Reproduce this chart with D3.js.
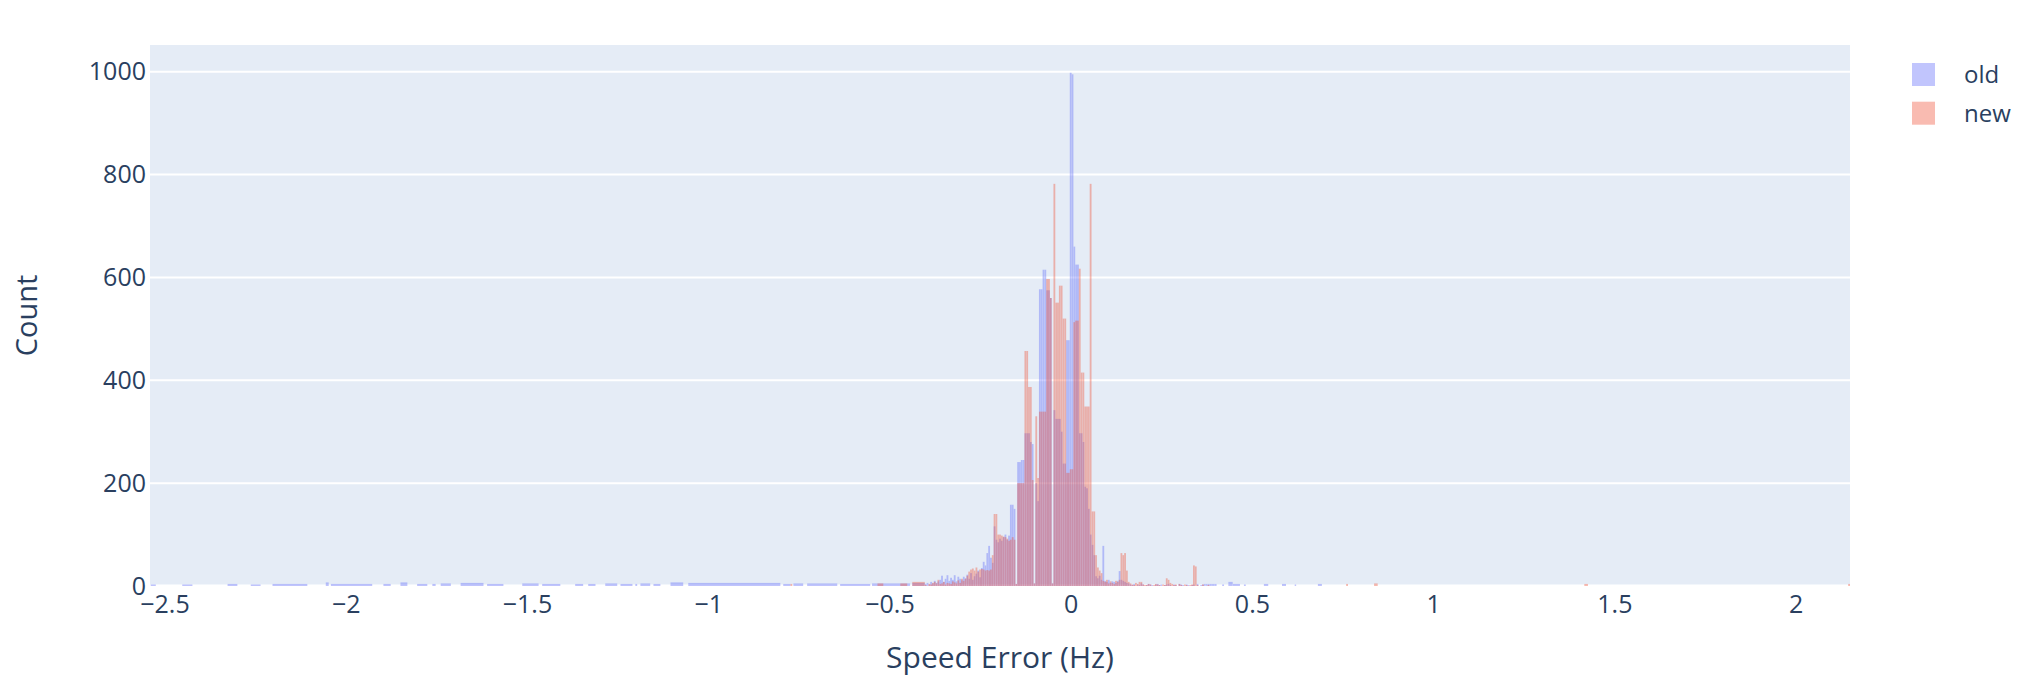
<!DOCTYPE html>
<html><head><meta charset="utf-8">
<script src="https://cdn.jsdelivr.net/npm/d3@7"></script>
<style>body{margin:0;background:#fff}</style>
</head><body><svg id="c" width="2032" height="688"></svg>
<script>
// ---------- data ----------
const seriesNames = ["old", "new"];
const binSize = 0.005;           // histogram bin width (Hz)
const coreStartK = -80;          // first core bin centre = k * binSize
// counts per bin, k = -80 .. 80 (centres -0.40 .. 0.40 Hz)
const oldCore = [
  4,6,3,8,5,10,6,9,
  12,20,8,14,21,10,16,12,21,9,18,14,11,
  18,15,22,14,25,12,19,24,30,17,
  35,47,40,64,78,55,
  45,116,90,85,
  92,88,95,100,90,98,158,
  158,150,
  4,
  241,241,245,245,
  297,297,297,280,
  276,
  5,
  200,
  165,
  577,577,615,615,
  575,575,560,
  5,
  342,
  325,325,325,300,
  238,238,
  478,478,
  998,995,
  660,
  625,625,
  297,
  297,280,
  193,190,
  150,
  100,80,60,
  19,15,20,12,
  78,
  10,8,12,6,9,
  8,6,10,29,
  12,10,8,6,5,
  3,2,4,0,3,2,5,3,0,2, 4,3,2,0,3,4,2,3,0,2, 3,4,2,0,3,2,0,4,3,2, 0,3,2,0,2,3,0,4,0,2, 3,4,4,4,4,4,4,4
];
const newCore = [
  2,0,4,3,6,8,5,12,
  4,5,8,3,6,5,4,9,7,5,11,6,14,
  10,14,20,28,32,34,30,36,28,32,
  33,32,30,31,30,32,
  60,140,140,100,
  100,98,96,95,92,88,90,
  95,90,
  4,
  200,200,200,200,
  457,457,387,387,
  206,
  5,
  330,
  210,
  339,339,339,339,
  597,597,560,
  5,
  782,
  551,551,584,584,
  520,520,
  220,220,
  227,227,
  513,
  516,516,
  617,
  415,415,
  349,349,349,
  782,
  145,145,
  60,
  36,30,25,
  10,
  8,12,5,9,6,4,10,8,12,
  64,60,64,30,
  8,5,3,2,6,4,
  8,8,3,2,
  2,4,3,0,2,4,3,2,0,3,2,
  15,12,6,4,
  2,3,0,4,2,0,3,2,0,2,3,
  40,38,
  2,0,0,3,0,0,2,0,0,0,0
];
// sparse tails: runs of adjacent bins [from Hz, to Hz, count]
const oldTailRuns = [
  [-2.538,-2.524,3],[-2.451,-2.423,3],[-2.326,-2.299,4],[-2.262,-2.235,3],
  [-2.202,-2.106,4],[-2.055,-2.047,7],[-2.041,-1.927,4],[-1.896,-1.876,4],
  [-1.849,-1.830,7],[-1.803,-1.775,4],[-1.761,-1.752,4],[-1.738,-1.710,5],
  [-1.683,-1.620,6],[-1.610,-1.565,4],[-1.513,-1.468,5],[-1.458,-1.408,4],
  [-1.367,-1.345,4],[-1.331,-1.311,4],[-1.284,-1.251,5],[-1.242,-1.209,4],
  [-1.201,-1.196,4],[-1.187,-1.160,5],[-1.151,-1.132,4],[-1.104,-1.069,7],
  [-1.055,-0.801,6],[-0.793,-0.773,4],[-0.765,-0.738,5],[-0.727,-0.644,5],
  [-0.636,-0.553,4],[-0.548,-0.443,5],[-0.437,-0.4025,6],
  [0.418,0.423,3],[0.435,0.447,8],[0.447,0.467,4],[0.478,0.483,3],
  [0.533,0.545,4],[0.583,0.594,4],[0.618,0.622,3],[0.682,0.693,4]
];
const newTailRuns = [
  [-0.773,-0.768,4],[-0.533,-0.517,5],[-0.470,-0.451,5],[-0.437,-0.4025,8],
  [0.760,0.765,4],[0.837,0.847,5],[1.417,1.427,4],[2.145,2.150,4]
];
const xTickValues = [-2.5,-2,-1.5,-1,-0.5,0,0.5,1,1.5,2];
const xTickLabels = ["\u22122.5","\u22122","\u22121.5","\u22121","\u22120.5","0","0.5","1","1.5","2"];
const yTickValues = [0,200,400,600,800,1000];
const yTickLabels = ["0","200","400","600","800","1000"];

// ---------- layout ----------
const colors = {old: "#636efa", new: "#EF553B"};
const font = "'Open Sans', 'Noto Sans', sans-serif";
const textColor = "#2a3f5f";
const L = 150, R = 1850, T = 45, B = 586;

const svg = d3.select("#c");
const x = d3.scaleLinear().domain([-2.54, 2.15]).range([L, R]);
const y = d3.scaleLinear().domain([0, 1052]).range([B, T]);

svg.append("rect").attr("x", L).attr("y", T).attr("width", R - L).attr("height", B - T).attr("fill", "#E5ECF6");

// gridlines
svg.append("g").selectAll("line").data(yTickValues.filter(v => v > 0)).join("line")
  .attr("x1", L).attr("x2", R).attr("y1", d => y(d)).attr("y2", d => y(d))
  .attr("stroke", "#fff").attr("stroke-width", 2);
// zero line
svg.append("line").attr("x1", L).attr("x2", R).attr("y1", y(0)).attr("y2", y(0))
  .attr("stroke", "#fff").attr("stroke-width", 3);

function binsFor(core, runs) {
  const out = [];
  core.forEach((c, i) => {
    const k = coreStartK + i;
    if (c > 0) out.push({x0: (k - 0.5) * binSize, x1: (k + 0.5) * binSize, c});
  });
  runs.forEach(r => out.push({x0: r[0], x1: r[1], c: r[2]}));
  return out;
}
const data = {old: binsFor(oldCore, oldTailRuns), new: binsFor(newCore, newTailRuns)};

seriesNames.forEach(name => {
  svg.append("g").attr("opacity", 0.4).selectAll("rect").data(data[name]).join("rect")
    .attr("x", d => x(d.x0)).attr("width", d => Math.max(0.6, x(d.x1) - x(d.x0)))
    .attr("y", d => y(d.c)).attr("height", d => y(0) - y(d.c))
    .attr("fill", colors[name]);
});

// axes labels
const xAxis = d3.axisBottom(x).tickValues(xTickValues).tickFormat((d, i) => xTickLabels[i]).tickSize(0).tickPadding(0);
const gx = svg.append("g").attr("transform", `translate(0,${B})`).call(xAxis);
gx.select(".domain").remove();
gx.selectAll("text").attr("dy", null).attr("y", 27).attr("font-size", 25).attr("font-family", font).attr("fill", textColor);

const yAxis = d3.axisLeft(y).tickValues(yTickValues).tickFormat((d, i) => yTickLabels[i]).tickSize(0).tickPadding(4);
const gy = svg.append("g").attr("transform", `translate(${L},0)`).call(yAxis);
gy.select(".domain").remove();
gy.selectAll("text").attr("font-size", 25).attr("font-family", font).attr("fill", textColor);

// axis titles
svg.append("text").attr("x", (L + R) / 2).attr("y", 668).attr("text-anchor", "middle")
  .attr("font-size", 30).attr("font-family", font).attr("fill", textColor).text("Speed Error (Hz)");
svg.append("text").attr("transform", `translate(37,${(T + B) / 2}) rotate(-90)`).attr("text-anchor", "middle")
  .attr("font-size", 29).attr("font-family", font).attr("fill", textColor).text("Count");

// legend
const lg = svg.append("g").selectAll("g").data(seriesNames).join("g")
  .attr("transform", (d, i) => `translate(1912,${74.5 + i * 38.7})`);
lg.append("rect").attr("x", 0).attr("y", -11.5).attr("width", 23).attr("height", 23)
  .attr("fill", d => colors[d]).attr("opacity", 0.4);
lg.append("text").attr("x", 52).attr("dy", "0.35em").attr("font-size", 24).attr("font-family", font)
  .attr("fill", textColor).text(d => d);
</script>
</body></html>
